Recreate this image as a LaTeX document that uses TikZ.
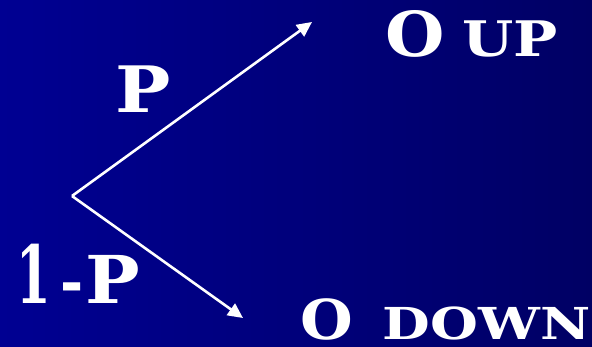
\documentclass[tikz,border=0pt]{standalone}
\usepackage{fontspec}
\usepackage{graphicx}
\usepackage{tikz}
\usetikzlibrary{arrows.meta}
\newfontfamily\labelfont{DejaVu Serif}
\definecolor{bgleft}{RGB}{0,0,146}
\definecolor{bgright}{RGB}{0,0,100}
\tikzstyle{branch} = [draw=white, line width=2.6pt, -{Triangle[length=15pt,width=14pt]}]
\tikzstyle{lbl} = [text=white, inner sep=0pt, anchor=base west, text depth=0pt, font=\labelfont\bfseries]
\newcommand{\wide}[2][1.15]{\scalebox{#1}[1]{#2}}

\begin{document}
\begin{tikzpicture}[x=1pt, y=-1pt]
% background
\shade[left color=bgleft, right color=bgright] (0,0) rectangle (592,346);
\useasboundingbox (0,0) rectangle (592,346);
% branch point and tips
\coordinate (root) at (72,196);
\coordinate (upend) at (312,22);
\coordinate (downend) at (243,318);
% branches
\draw[branch] (root) -- (upend);
\draw[branch] (root) -- (downend);
% probabilities
\node[lbl, font=\labelfont\bfseries\fontsize{64}{64}\selectfont] (pup) at (115,112) {\wide{P}};
\node[lbl] (pdown) at (16,303) {\fontsize{80}{80}\selectfont\wide[0.62]{1}\fontsize{62}{62}\selectfont\hspace{10pt}\wide[0.9]{-}\hspace{2pt}\fontsize{66}{66}\selectfont\wide[1.1]{P}};
% outcomes
\node[lbl] (oup) at (385,56) {\fontsize{62}{62}\selectfont\wide[1.1]{O}\hspace{18pt}\fontsize{49}{49}\selectfont\wide[1.2]{UP}};
\node[lbl] (odown) at (300,339) {\fontsize{55}{55}\selectfont\wide[1.1]{O}\hspace{30pt}\fontsize{44}{44}\selectfont\wide[1.25]{DOWN}};
\end{tikzpicture}
\end{document}
